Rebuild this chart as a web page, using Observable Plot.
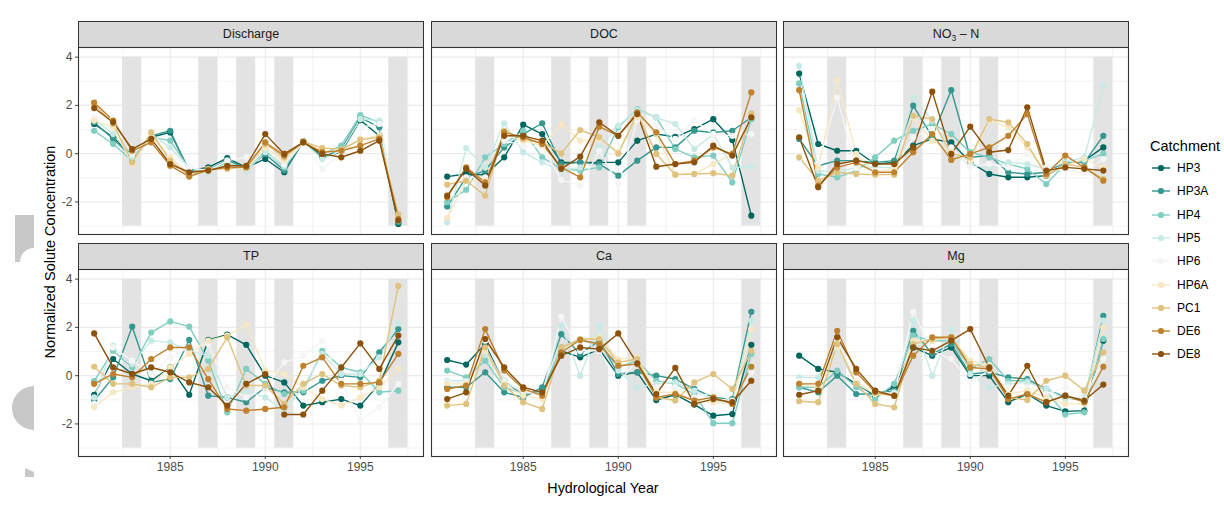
<!DOCTYPE html>
<html>
<head>
<meta charset="utf-8">
<script src="https://cdn.jsdelivr.net/npm/d3@7"></script>
<script src="https://cdn.jsdelivr.net/npm/@observablehq/plot@0.6"></script>
<style>
  body { margin: 0; background: #fff; font-family: "Liberation Sans", Arial, sans-serif; }
  #root { position: relative; width: 1224px; height: 506px; overflow: hidden; background: #fff; }
  .strip { position: absolute; box-sizing: border-box; border: 1px solid #333; background: #D9D9D9;
           color: #1A1A1A; font-size: 12.5px; text-align: center; line-height: 25px; }
  .strip sub { font-size: 8.5px; vertical-align: -3px; line-height: 0; }
  .panel { position: absolute; }
  .ytitle { position: absolute; left: 50px; top: 252px; transform: translate(-50%, -50%) rotate(-90deg);
            white-space: nowrap; font-size: 14.5px; color: #000; }
  .xtitle { position: absolute; left: 603px; top: 488px; transform: translate(-50%, -50%);
            white-space: nowrap; font-size: 14.3px; color: #000; }
  .ltitle { position: absolute; left: 1150px; top: 138px; font-size: 14.5px; color: #000; }
  .lg { position: absolute; left: 1151px; height: 12px; display: flex; align-items: center; font-size: 12px; color: #000; }
  .lg svg { margin-right: 6px; }
</style>
</head>
<body>
<div id="root"></div>
<script>
// ---------- data ----------
const years = [1981, 1982, 1983, 1984, 1985, 1986, 1987, 1988, 1989, 1990, 1991, 1992, 1993, 1994, 1995, 1996, 1997];
const catchments = ["HP3", "HP3A", "HP4", "HP5", "HP6", "HP6A", "PC1", "DE6", "DE8"];
const palette = ["#01665e", "#35978f", "#80cdc1", "#c7eae5", "#f5f5f5", "#f6e8c3", "#dfc27d", "#bf812d", "#8c510a"];
const variables = ["Discharge", "DOC", "NO3-N", "TP", "Ca", "Mg"];
const stripLabels = ["Discharge", "DOC", "NO<sub>3</sub> &#8211; N", "TP", "Ca", "Mg"];
const xTicks = [1985, 1990, 1995];
const xMinor = [1982.5, 1987.5, 1992.5, 1997.5];
const yTicks = [-2, 0, 2, 4];
const yMinor = [-3, -1, 1, 3];
const dryYears = [1983, 1987, 1989, 1991, 1997];
const shadeRange = [-3, 4];

// rows: catchments in order HP3, HP3A, HP4, HP5, HP6, HP6A, PC1, DE6, DE8; columns: years
const discharge = [
  [1.23, 0.68, -0.08, 0.68, 0.88, -0.70, -0.57, -0.18, -0.57, -0.22, -0.77, 0.51, -0.12, 0.06, 1.39, 0.74, -2.91],
  [1.30, 0.61, -0.15, 0.74, 0.95, -0.77, -0.68, -0.26, -0.63, -0.01, -0.70, 0.51, -0.15, 0.19, 1.50, 1.09, -2.84],
  [0.95, 0.40, -0.29, 0.68, 0.54, -0.63, -0.70, -0.36, -0.70, 0.12, -0.57, 0.51, -0.01, 0.33, 1.60, 1.30, -2.77],
  [1.43, 0.81, -0.15, 0.81, 0.26, -0.57, -0.77, -0.40, -0.70, 0.06, -0.50, 0.47, -0.22, 0.12, 1.43, 1.37, -2.77],
  [1.50, 1.50, -0.01, 0.68, -0.01, -0.57, -0.70, -0.29, -0.15, 0.26, -0.43, 0.47, -0.63, -0.01, 1.09, 1.23, -2.70],
  [1.37, 1.09, -0.43, 0.74, -0.15, -0.84, -0.70, -0.57, -0.63, 0.26, -0.29, 0.47, 0.12, 0.06, 0.61, 0.74, -2.63],
  [2.06, 1.23, -0.36, 0.88, -0.29, -0.91, -0.63, -0.63, -0.54, 0.40, -0.15, 0.51, 0.23, 0.19, 0.57, 0.68, -2.50],
  [2.12, 1.37, 0.12, 0.47, -0.50, -0.95, -0.68, -0.57, -0.57, 0.47, -0.08, 0.47, 0.06, 0.12, 0.33, 0.61, -2.70],
  [1.89, 1.30, 0.19, 0.61, -0.43, -0.77, -0.70, -0.50, -0.50, 0.81, -0.01, 0.47, -0.01, -0.15, 0.12, 0.54, -2.77]
];
const doc = [
  [-0.95, -0.84, -0.88, -0.15, 1.20, 0.81, -0.36, -0.36, -0.36, -0.36, 0.54, 0.81, 0.70, 1.02, 1.43, 0.57, -2.57],
  [-2.19, -0.98, -0.70, 0.26, 0.81, 1.26, -0.43, -0.36, -0.43, -0.91, -0.29, 0.26, 0.26, 0.95, 0.88, 0.95, 1.50],
  [-2.01, -1.50, -0.15, 0.40, 0.95, -0.15, -0.63, -0.70, -0.57, 1.09, 1.85, 1.50, 0.19, -0.15, -0.08, -1.19, 1.43],
  [-2.84, 0.23, -0.57, 1.26, 0.06, -0.36, -0.70, -0.57, 0.26, 1.16, 1.81, 1.50, 1.23, 0.19, 0.81, -0.57, -0.54],
  [-1.46, -0.98, -0.98, 0.54, 0.33, 0.26, -1.09, -1.32, 0.12, -1.26, 1.37, 1.16, 0.61, 1.37, 0.81, 0.74, 0.81],
  [-2.66, -1.12, -1.12, 0.81, 0.54, 0.33, 1.20, 0.54, 0.61, 0.06, 1.50, 0.81, -0.87, -0.84, -0.43, -0.01, 1.50],
  [-1.28, -1.12, -1.74, 0.95, 0.61, 0.47, 0.01, 0.98, 0.68, 0.01, 1.64, -0.01, -0.87, -0.84, -0.81, -0.91, 1.67],
  [-1.81, -0.57, -1.19, 0.88, 0.68, 0.40, -0.57, -0.98, 1.12, 0.74, 1.71, 0.88, -0.43, -0.29, 0.26, -0.01, 2.54],
  [-1.74, -0.63, -1.32, 0.74, 0.74, 0.54, -0.63, -0.12, 1.30, 0.74, 1.64, -0.54, -0.43, -0.36, 0.33, -0.08, 1.50]
];
const no3n = [
  [3.32, 0.40, 0.12, 0.12, -0.43, -0.36, 0.33, 0.61, 0.47, -0.36, -0.84, -0.98, -0.98, -0.91, -0.43, -0.29, 0.26],
  [0.61, -0.50, -0.29, -0.29, -0.36, -0.29, 1.99, 0.70, 2.63, -0.15, -0.08, -0.77, -0.84, -0.77, -0.36, -0.36, 0.74],
  [2.91, -0.84, -0.98, -0.70, -0.15, 0.54, 0.95, 1.23, 0.81, 0.06, -0.15, -0.43, -0.63, -1.26, -0.43, -0.29, -0.01],
  [3.64, -0.70, -0.77, -0.57, -0.57, -0.57, 2.33, 1.37, -0.01, -0.43, -0.57, -0.36, -0.43, -0.63, -0.36, -0.15, 2.81],
  [-0.22, -0.43, 2.33, -0.63, -0.70, -0.63, 0.68, 1.02, 0.26, -0.57, -0.43, -0.57, -0.01, -0.57, -0.70, -0.77, -0.22],
  [1.81, -0.57, 3.05, -0.01, -0.84, -0.57, 1.50, 0.54, 0.06, -0.29, 1.37, 1.09, 0.26, -0.81, -0.50, -0.22, -0.57],
  [-0.15, -1.12, -0.77, -0.84, -0.87, -0.87, 1.57, 1.43, -0.01, -0.15, 1.43, 1.30, 0.40, -0.91, -0.43, -0.57, -1.05],
  [2.63, -1.32, -0.57, -0.36, -0.77, -0.77, 0.06, 0.81, -0.26, -0.01, 0.26, 0.74, 1.64, -0.84, -0.08, -0.57, -1.12],
  [0.68, -1.39, -0.43, -0.29, -0.43, -0.43, 0.26, 2.57, -0.01, 1.12, 0.06, 0.15, 1.92, -0.70, -0.57, -0.63, -0.70]
];
const tp = [
  [-0.79, 0.69, 0.07, -0.21, 0.34, -0.79, 1.48, 1.70, 1.28, 0.00, -0.28, -1.24, -1.10, -0.97, -1.24, -0.34, 1.38],
  [-1.03, -0.07, 2.03, -0.28, -0.14, 1.48, -0.83, -0.90, -1.10, -0.48, -0.69, -0.69, -0.21, 0.00, -0.07, 0.97, 1.93],
  [-0.23, 1.03, 0.34, 1.79, 2.25, 2.03, 0.62, -1.52, 0.28, -0.34, -0.76, -0.62, 1.03, 0.34, 0.14, -0.69, -0.62],
  [-0.90, 1.24, 0.48, 1.45, 1.38, 1.03, 0.83, -0.90, -0.62, -0.90, -1.45, -0.48, 0.90, 0.07, 0.07, 0.76, 2.17],
  [-1.17, 1.17, 0.62, 0.07, 0.76, 1.17, 1.31, -0.48, -0.90, -0.48, 0.55, 0.83, 1.45, -0.21, -1.86, -1.31, -0.34],
  [-1.31, -0.69, -0.48, -0.34, 0.34, 0.90, 1.45, 1.66, 2.11, 0.21, 0.07, -0.48, -0.97, -1.24, -0.90, -0.48, 0.28],
  [0.37, -0.34, -0.34, -0.48, -0.07, -0.07, 0.28, 1.59, -0.41, -0.41, -1.17, -0.34, 0.07, -0.41, -0.48, -0.21, 3.72],
  [-0.34, 0.07, -0.07, 0.69, 1.17, 1.17, -0.14, -1.38, -1.45, -1.38, -1.31, 0.41, 0.76, -0.34, -0.34, -0.28, 0.90],
  [1.75, 0.34, 0.07, 0.34, 0.14, -0.28, -0.48, -1.24, -0.34, 0.07, -1.61, -1.61, -0.62, 0.34, 1.34, 0.28, 1.66]
];
const ca = [
  [0.65, 0.46, 1.31, -0.21, -0.83, -0.62, 1.03, 0.76, 1.10, 0.00, 0.14, -1.01, -0.79, -1.20, -1.66, -1.59, 1.28],
  [-0.48, -0.48, 0.14, -0.69, -0.90, -0.48, 1.72, 0.90, 1.45, 0.07, 0.14, 0.00, -0.14, -0.55, -0.90, -0.97, 2.65],
  [0.21, -0.07, 0.62, -0.48, -0.76, -0.69, 1.17, 1.45, 1.31, 0.34, 0.62, -0.21, -0.34, -0.76, -1.97, -1.97, 0.90],
  [-0.21, -0.21, 0.90, -0.28, -0.69, -0.76, 2.07, 0.00, 2.07, 0.21, -0.48, -0.34, -0.28, -0.62, -1.03, -1.10, 2.28],
  [-0.28, -0.28, 1.45, -0.21, -0.62, -0.83, 2.44, 1.03, 1.03, -0.28, 0.62, -0.48, -0.48, -0.90, -0.69, -1.03, 0.14],
  [-0.34, -0.34, 1.03, -0.34, -0.83, -0.97, 1.10, 1.45, 1.59, 0.69, 0.76, -0.69, -0.69, -1.03, -1.10, -1.17, 1.93],
  [-1.24, -1.17, 1.17, -0.41, -1.10, -1.38, 1.17, 1.52, 1.52, 0.55, 0.69, -0.90, -1.03, -0.28, 0.07, -0.55, 1.03],
  [-0.55, -0.41, 1.93, 0.21, -0.55, -0.83, 0.97, 1.48, 1.31, 0.41, 0.48, -0.90, -0.76, -1.03, -0.90, -1.17, 0.37],
  [-0.97, -0.69, 1.52, 0.34, -0.48, -0.69, 0.83, 1.17, 1.10, 1.75, 0.51, -0.76, 0.32, -1.17, -0.97, -1.10, -0.21]
];
const mg = [
  [0.83, 0.28, 0.14, -0.34, -0.83, -0.48, 1.17, 0.83, 1.17, 0.00, 0.00, -1.10, -0.76, -1.24, -1.48, -1.45, 1.45],
  [-0.48, -0.69, 0.00, -0.76, -0.76, -0.62, 1.86, 0.90, 1.31, 0.07, 0.14, -0.07, -0.14, -0.55, -0.90, -1.03, 2.48],
  [-0.48, -0.48, 0.21, -0.48, -0.97, -0.34, 1.66, 1.45, 1.45, 0.28, 0.69, -0.21, -0.21, -0.62, -1.61, -1.52, 1.52],
  [-0.07, -0.07, 1.10, -0.34, -0.76, -0.69, 2.28, 0.00, 1.93, 0.07, -0.48, -0.34, -0.28, -0.55, -0.97, -0.90, 2.28],
  [-0.21, -0.34, 1.45, -0.21, -0.69, -0.76, 2.65, 1.03, 0.69, -0.28, 0.21, -0.48, -0.48, -0.76, -0.48, -0.97, 0.69],
  [-0.34, -0.48, 1.17, -0.28, -0.76, -0.83, 1.45, 1.45, 1.59, 0.62, 0.41, -0.76, -0.62, -0.90, -1.17, -1.17, 2.00],
  [-1.06, -1.10, 1.31, -0.34, -1.17, -1.31, 1.31, 1.52, 1.59, 0.48, 0.34, -0.90, -1.01, -0.21, 0.00, -0.62, 0.97],
  [-0.34, -0.34, 1.86, 0.14, -0.69, -0.83, 0.83, 1.59, 1.59, 0.34, 0.28, -0.97, -0.76, -1.10, -0.83, -1.10, 0.37],
  [-0.79, -0.62, 1.59, 0.28, -0.62, -0.83, 1.17, 1.03, 1.45, 1.93, 0.34, -0.83, 0.41, -1.10, -0.83, -1.03, -0.37]
];
const seriesByVariable = [discharge, doc, no3n, tp, ca, mg];

// ---------- layout ----------
const colLeft = [78, 431, 783];
const PW = 345;
const stripTop = [21, 243];
const panelTop = [47, 269];
const PH = 187;
const root = document.getElementById("root");

function rowsFor(matrix) {
  const out = [];
  catchments.forEach((c, i) => years.forEach((y, j) => out.push({ year: y, value: matrix[i][j], catchment: c })));
  return out;
}

variables.forEach((v, k) => {
  const row = Math.floor(k / 3), col = k % 3;
  const showY = col === 0, showX = row === 1;
  const mL = showY ? 34 : 1, mR = 1, mT = 1, mB = showX ? 24 : 1;

  const strip = document.createElement("div");
  strip.className = "strip";
  strip.style.left = colLeft[col] + "px";
  strip.style.top = stripTop[row] + "px";
  strip.style.width = (PW + 1) + "px";
  strip.style.height = (panelTop[row] - stripTop[row] + 1) + "px";
  strip.innerHTML = stripLabels[k];
  root.appendChild(strip);

  const data = rowsFor(seriesByVariable[k]);
  const chart = Plot.plot({
    width: PW + mL + mR,
    height: PH + mT + mB,
    marginLeft: mL, marginRight: mR, marginTop: mT, marginBottom: mB,
    style: { background: "transparent", fontFamily: "'Liberation Sans', Arial, sans-serif", fontSize: "12px", color: "#4D4D4D", overflow: "visible" },
    x: { domain: [1980.175, 1998.325], ticks: xTicks, tickSize: 3, tickPadding: 3, tickFormat: d => String(d), label: null, axis: showX ? "bottom" : null },
    y: { domain: [-3.35, 4.40], ticks: yTicks, tickSize: 3, tickPadding: 3, tickFormat: d => String(d), label: null, axis: showY ? "left" : null },
    color: { domain: catchments, range: palette },
    marks: [
      Plot.ruleY(yMinor, { stroke: "#EBEBEB", strokeWidth: 0.6 }),
      Plot.ruleX(xMinor, { stroke: "#EBEBEB", strokeWidth: 0.6 }),
      Plot.ruleY(yTicks, { stroke: "#EBEBEB", strokeWidth: 1.1 }),
      Plot.ruleX(xTicks, { stroke: "#EBEBEB", strokeWidth: 1.1 }),
      Plot.rect(dryYears, { x1: d => d - 0.5, x2: d => d + 0.5, y1: () => shadeRange[0], y2: () => shadeRange[1], fill: "#E3E3E3" }),
      Plot.line(data, { x: "year", y: "value", z: "catchment", stroke: "catchment", strokeWidth: 1.4 }),
      Plot.dot(data, { x: "year", y: "value", fill: "catchment", r: 3.1 }),
      Plot.frame({ stroke: "#333333", strokeWidth: 1.1 })
    ]
  });
  const holder = document.createElement("div");
  holder.className = "panel";
  holder.style.left = (colLeft[col] - mL) + "px";
  holder.style.top = (panelTop[row] - mT) + "px";
  holder.appendChild(chart);
  root.appendChild(holder);
});

// axis titles
const yt = document.createElement("div");
yt.className = "ytitle"; yt.textContent = "Normalized Solute Concentration";
root.appendChild(yt);
const xt = document.createElement("div");
xt.className = "xtitle"; xt.textContent = "Hydrological Year";
root.appendChild(xt);

// legend
const lt = document.createElement("div");
lt.className = "ltitle"; lt.textContent = "Catchment";
root.appendChild(lt);
catchments.forEach((c, i) => {
  const e = document.createElement("div");
  e.className = "lg";
  e.style.top = (162 + i * 23.3) + "px";
  e.innerHTML = `<svg width="20" height="12"><line x1="1" x2="19" y1="6" y2="6" stroke="${palette[i]}" stroke-width="1.4"/><circle cx="10" cy="6" r="3.1" fill="${palette[i]}"/></svg><span>${c}</span>`;
  root.appendChild(e);
});

// grey fragments at the far left of the picture
const deco = document.createElementNS("http://www.w3.org/2000/svg", "svg");
deco.setAttribute("width", "40"); deco.setAttribute("height", "506");
deco.style.position = "absolute"; deco.style.left = "0px"; deco.style.top = "0px";
deco.innerHTML = `<path d="M15,215 H34 V248 A14,14 0 0 0 20,262 H15 Z" fill="#C8C8C8"/>
<path d="M34,386 A22,22 0 0 0 34,430 Z" fill="#C8C8C8"/>
<path d="M25,468 L34,472 L34,477 L25,477 Z" fill="#C8C8C8"/>`;
root.appendChild(deco);
</script>
</body>
</html>
